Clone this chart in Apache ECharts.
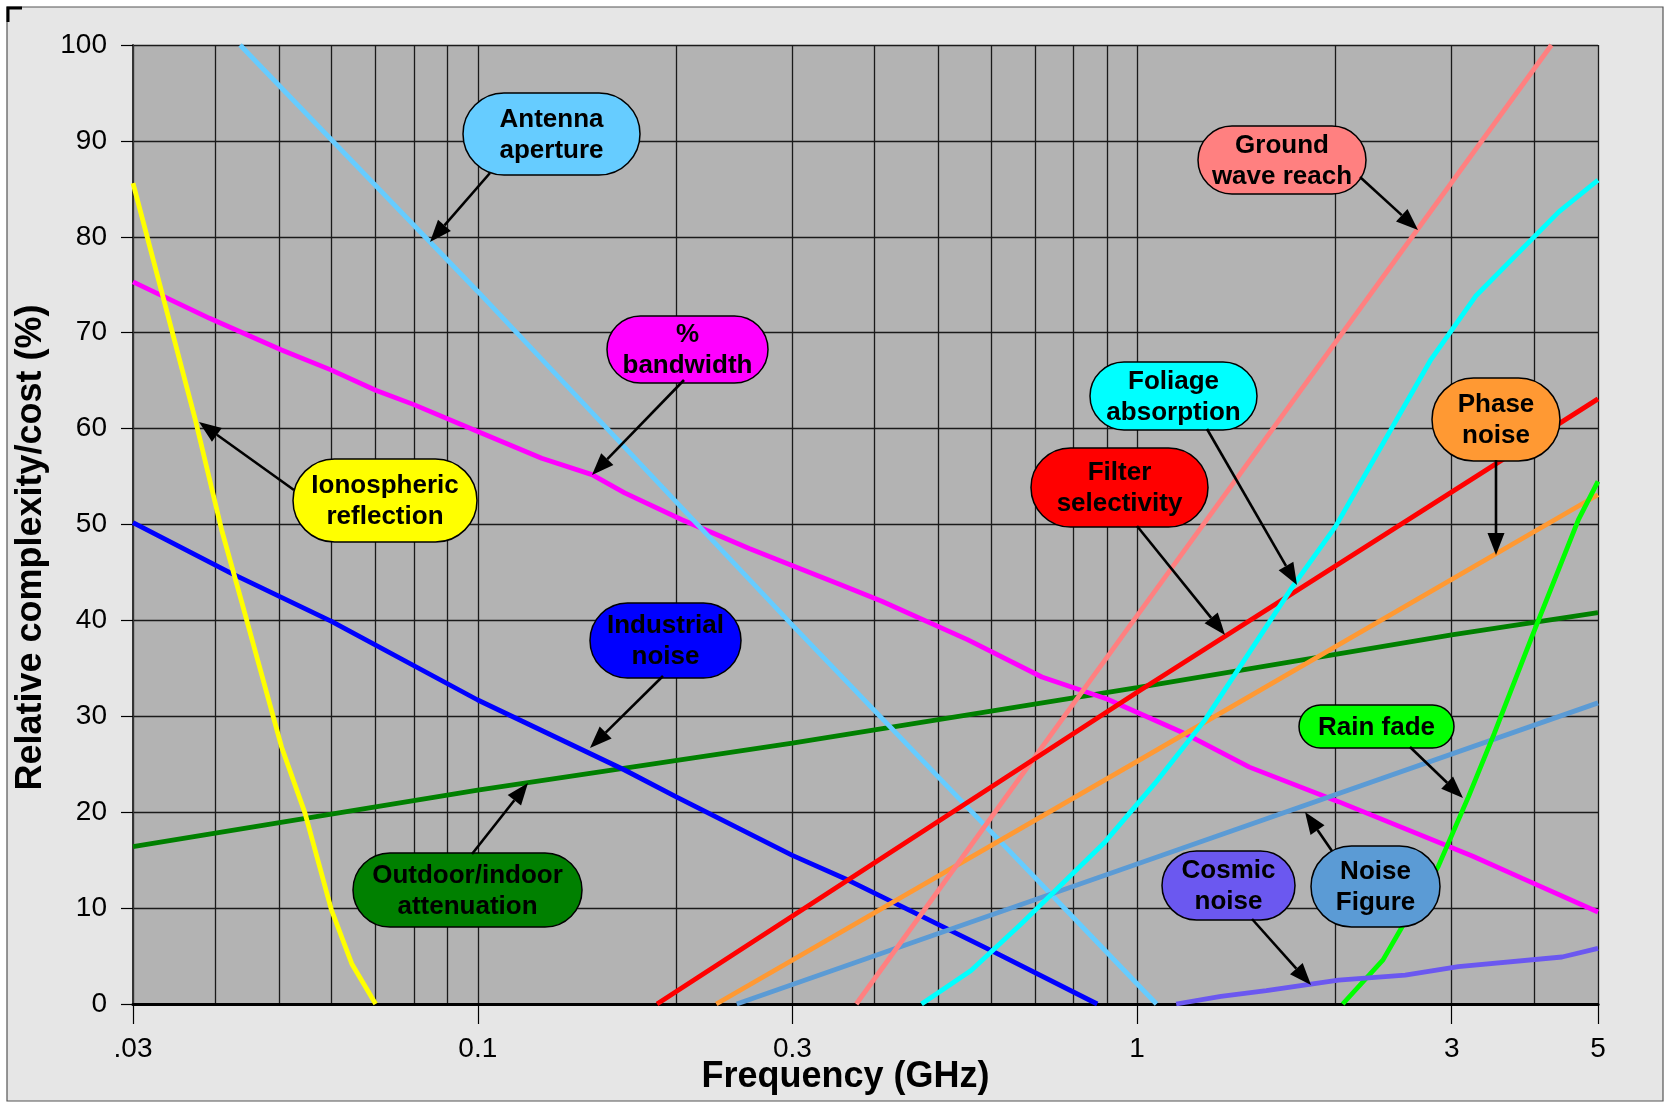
<!DOCTYPE html>
<html><head><meta charset="utf-8">
<script src="https://cdn.jsdelivr.net/npm/echarts@6/dist/echarts.min.js"></script>
<style>html,body{margin:0;padding:0;background:#fff;}#c{width:1667px;height:1103px;}</style>
</head><body><div id="c"></div>
<script>
// ---- axis values ----
const gridFreqs = [0.03,0.04,0.05,0.06,0.07,0.08,0.09,0.1,0.2,0.3,0.4,0.5,0.6,0.7,0.8,0.9,1,2,3,4,5];
const tickFreqs = [0.03,0.1,0.3,1,3,5];
const tickLabels = ['.03','0.1','0.3','1','3','5'];

// ---- series data: [frequency GHz, relative complexity/cost %] ----
const ionosphericReflection = [[0.03,85.6],[0.0335,73.1],[0.0373,60.9],[0.0409,49.4],[0.0439,41.8],[0.0504,26.8],[0.0547,19.9],[0.060,9.8],[0.0644,4.2],[0.070,0]];
const antennaAperture = [[0.0436,100],[0.1,74.3],[0.3,39.5],[1.07,0]];
const percentBandwidth = [[0.03,75.3],[0.0392,71.5],[0.0504,68.2],[0.06,66.1],[0.07,64.0],[0.08,62.5],[0.1,59.7],[0.125,56.9],[0.149,55.2],[0.167,53.3],[0.204,50.5],[0.258,47.5],[0.303,45.6],[0.356,43.7],[0.41,42.0],[0.553,38.0],[0.717,34.1],[0.9,31.8],[1.19,28.1],[1.48,24.7],[2.02,21.1],[3.23,15.4],[3.84,13.1],[5,9.6]];
const industrialNoise = [[0.03,50.2],[0.0423,44.9],[0.06,39.9],[0.1,31.7],[0.167,24.4],[0.2,21.6],[0.3,15.5],[0.365,12.9],[0.46,9.5],[0.6,5.6],[0.87,0]];
const outdoorIndoor = [[0.03,16.4],[0.1,22.3],[0.3,27.2],[1,33.0],[3,38.5],[5,40.8]];
const filterSelectivity = [[0.187,0],[1,32.5],[5,63.1]];
const phaseNoise = [[0.23,0],[1,25.3],[5,53.1]];
const groundWaveReach = [[0.375,0],[1,40.5],[4.25,100]];
const foliageAbsorption = [[0.471,0],[0.56,3.5],[0.668,8.4],[0.894,16.9],[1.064,23.0],[1.267,29.6],[1.72,43.5],[2.0,49.8],[2.79,67.2],[3.26,73.8],[4.36,82.6],[5,85.9]];
const noiseFigure = [[0.247,0],[1,14.6],[5,31.4]];
const rainFade = [[2.05,0],[2.36,4.6],[2.55,8.6],[2.86,14.3],[3.18,21.6],[3.48,28.2],[3.97,38.3],[4.67,50.5],[5,54.5]];
const cosmicNoise = [[1.146,0],[1.34,0.8],[1.57,1.4],[2.02,2.5],[2.55,3.0],[3.07,3.9],[4.41,4.9],[5,5.8]];

// ---- series styling ----
const seriesDefs = [
  {name:'Outdoor/indoor attenuation', data:outdoorIndoor, color:'#008000'},
  {name:'Industrial noise', data:industrialNoise, color:'#0000ff'},
  {name:'% bandwidth', data:percentBandwidth, color:'#ff00ff'},
  {name:'Antenna aperture', data:antennaAperture, color:'#66ccff'},
  {name:'Ionospheric reflection', data:ionosphericReflection, color:'#ffff00'},
  {name:'Noise Figure', data:noiseFigure, color:'#5b9bd5'},
  {name:'Phase noise', data:phaseNoise, color:'#ff9933'},
  {name:'Ground wave reach', data:groundWaveReach, color:'#ff8080'},
  {name:'Filter selectivity', data:filterSelectivity, color:'#ff0000'},
  {name:'Foliage absorption', data:foliageAbsorption, color:'#00ffff'},
  {name:'Rain fade', data:rainFade, color:'#00ff00'},
  {name:'Cosmic noise', data:cosmicNoise, color:'#6b58f0'}
];

// ---- callout layout (pixels): box x1,y1,x2,y2 ; arrow from -> tip ----
const callouts = [
  {text:'Antenna\naperture', fill:'#66ccff', box:[463,93,640,175], from:[490,173], tip:[430,242]},
  {text:'%\nbandwidth', fill:'#ff00ff', box:[607,316,768,383], from:[684,380], tip:[592,475]},
  {text:'Ionospheric\nreflection', fill:'#ffff00', box:[293,459,477,542], from:[294,490], tip:[199,422]},
  {text:'Industrial\nnoise', fill:'#0000ff', box:[590,603,741,678], from:[663,676], tip:[590,748]},
  {text:'Outdoor/indoor\nattenuation', fill:'#008000', box:[353,853,582,927], from:[472,854], tip:[528,783]},
  {text:'Ground\nwave reach', fill:'#ff8080', box:[1198,126,1366,194], from:[1360,177], tip:[1418,230]},
  {text:'Foliage\nabsorption', fill:'#00ffff', box:[1090,362,1257,430], from:[1207,429], tip:[1297,585]},
  {text:'Filter\nselectivity', fill:'#ff0000', box:[1031,448,1208,527], from:[1137,526], tip:[1225,635]},
  {text:'Phase\nnoise', fill:'#ff9933', box:[1432,378,1560,461], from:[1496,460], tip:[1496,555]},
  {text:'Rain fade', fill:'#00ff00', box:[1299,705,1454,748], from:[1410,747], tip:[1463,798]},
  {text:'Cosmic\nnoise', fill:'#6b58f0', box:[1162,851,1295,920], from:[1252,919], tip:[1311,985]},
  {text:'Noise\nFigure', fill:'#5b9bd5', box:[1311,846,1440,927], from:[1332,851], tip:[1305,812]}
];

const FONT = "'Liberation Sans', Arial, Helvetica, sans-serif";

function nearestLabel(v) {
  let best = 0, bd = Infinity;
  tickFreqs.forEach((t, i) => { const d = Math.abs(Math.log(v / t)); if (d < bd) { bd = d; best = i; } });
  return tickLabels[best];
}

const graphics = [
  {type:'rect', z:-10, silent:true, shape:{x:7, y:7, width:1656, height:1094}, style:{fill:'#e6e6e6', stroke:'#555', lineWidth:1.2}},
  {type:'polyline', z:-9, silent:true, shape:{points:[[8,22],[8,8],[22,8]]}, style:{stroke:'#000', lineWidth:3, fill:null}}
];
callouts.forEach(c => {
  const [x1,y1,x2,y2] = c.box;
  const w = x2 - x1, h = y2 - y1;
  graphics.push({type:'rect', z:100, silent:true, shape:{x:x1, y:y1, width:w, height:h, r:Math.min(w,h)/2}, style:{fill:c.fill, stroke:'#000', lineWidth:1.5}});
  graphics.push({type:'text', z:101, silent:true, x:(x1+x2)/2, y:(y1+y2)/2 + 1,
    style:{text:c.text, fill:'#000', font:'bold 26px ' + FONT, align:'center', verticalAlign:'middle', lineHeight:31}});
  const dx = c.tip[0]-c.from[0], dy = c.tip[1]-c.from[1];
  const len = Math.sqrt(dx*dx+dy*dy), ux = dx/len, uy = dy/len;
  const L = 22, W = 8.5;
  const bx = c.tip[0]-ux*L, by = c.tip[1]-uy*L;
  graphics.push({type:'line', z:102, silent:true, shape:{x1:c.from[0], y1:c.from[1], x2:bx, y2:by}, style:{stroke:'#000', lineWidth:2.6}});
  graphics.push({type:'polygon', z:102, silent:true, shape:{points:[[c.tip[0],c.tip[1]],[bx-uy*W, by+ux*W],[bx+uy*W, by-ux*W]]}, style:{fill:'#000'}});
});

const chart = echarts.init(document.getElementById('c'), null, {renderer:'canvas'});
chart.setOption({
  animation:false,
  backgroundColor:'#ffffff',
  grid:{left:133, top:45, right:69, bottom:99, show:true, backgroundColor:'#b3b3b3', borderWidth:0, containLabel:false},
  xAxis:[
    {type:'log', logBase:10, min:0.03, max:5,
     axisLine:{show:true, onZero:true, lineStyle:{color:'#000', width:3.2}},
     axisTick:{show:false, customValues:gridFreqs},
     axisLabel:{show:false},
     splitLine:{show:true, lineStyle:{color:'#1a1a1a', width:1.3}},
     minorTick:{show:false}, minorSplitLine:{show:false},
     name:'Frequency (GHz)', nameLocation:'middle', nameGap:55,
     nameTextStyle:{fontSize:36, fontWeight:'bold', color:'#000', fontFamily:FONT, padding:[0,40,0,0]}
    },
    {type:'log', logBase:10, min:0.03, max:5, position:'bottom',
     axisLine:{show:false},
     axisTick:{show:true, customValues:tickFreqs, length:20, lineStyle:{color:'#000', width:1.2}},
     axisLabel:{show:true, customValues:tickFreqs, fontSize:28, color:'#000', fontFamily:FONT, margin:31,
       formatter:(v) => nearestLabel(v)},
     splitLine:{show:false}
    }
  ],
  yAxis:{type:'value', min:0, max:100, interval:10,
    axisLine:{show:true, lineStyle:{color:'#333', width:2}},
    axisTick:{show:true, length:12, lineStyle:{color:'#000', width:1.2}},
    axisLabel:{fontSize:28, color:'#000', margin:26, fontFamily:FONT},
    splitLine:{show:true, lineStyle:{color:'#1a1a1a', width:1.3}},
    name:'Relative complexity/cost (%)', nameLocation:'middle', nameGap:78,
    nameTextStyle:{fontSize:36, fontWeight:'bold', color:'#000', fontFamily:FONT, padding:[0,46,0,0]}
  },
  series: seriesDefs.map(s => ({
    name:s.name, type:'line', xAxisIndex:0, yAxisIndex:0, data:s.data,
    showSymbol:false, symbol:'none', smooth:false, clip:true,
    lineStyle:{color:s.color, width:4.8}, itemStyle:{color:s.color}
  })),
  graphic:{elements:graphics}
});
</script></body></html>
